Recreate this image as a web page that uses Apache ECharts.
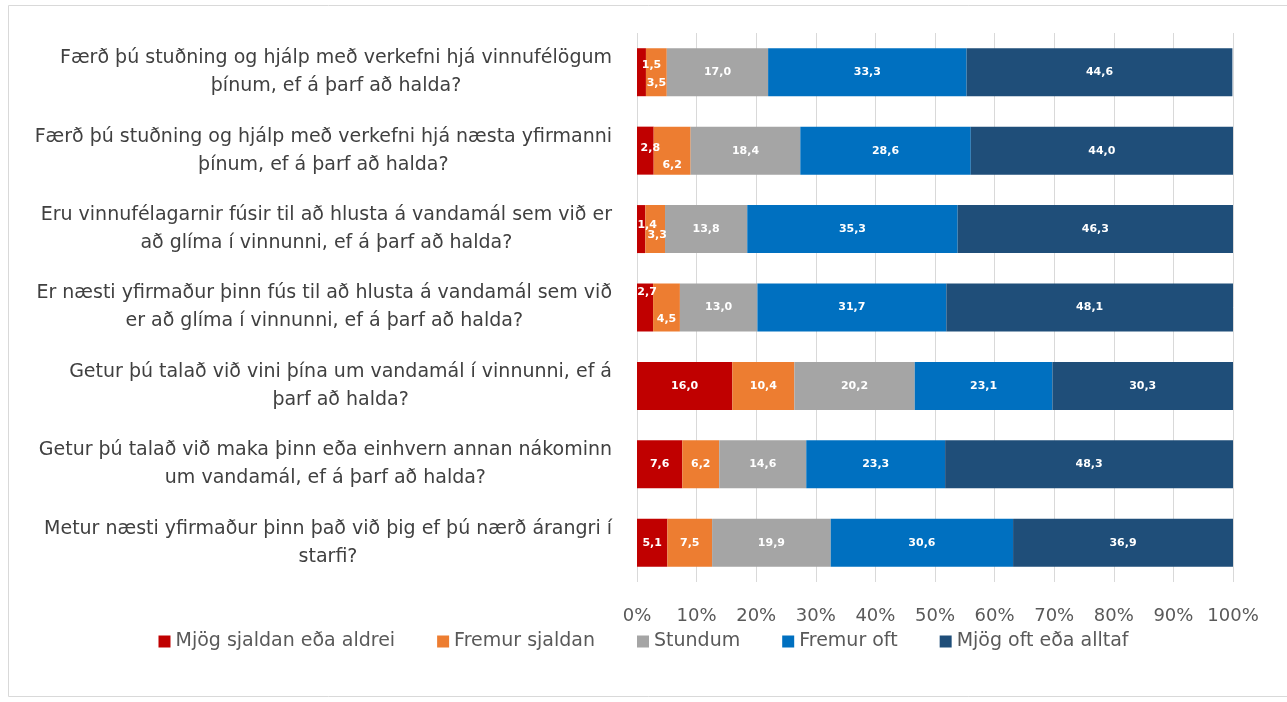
<!DOCTYPE html>
<html>
<head>
    <meta charset="utf-8">
    <title>Stuðningur í starfi</title>
    <script src="https://cdn.jsdelivr.net/npm/echarts@6/dist/echarts.min.js"></script>
    <style>
        html, body {margin: 0; padding: 0; background: #fff;}
        #main {width: 1287px; height: 702px;}
    </style>
</head>
<body>
<div id="main"></div>
<script>
    // spurningar (y-ás)
    var categories = [
        'Færð þú stuðning og hjálp með verkefni hjá vinnufélögum\nþínum, ef á þarf að halda?',
        'Færð þú stuðning og hjálp með verkefni hjá næsta yfirmanni\nþínum, ef á þarf að halda?',
        'Eru vinnufélagarnir fúsir til að hlusta á vandamál sem við er\nað glíma í vinnunni, ef á þarf að halda?',
        'Er næsti yfirmaður þinn fús til að hlusta á vandamál sem við\ner að glíma í vinnunni, ef á þarf að halda?',
        'Getur þú talað við vini þína um vandamál í vinnunni, ef á\nþarf að halda?',
        'Getur þú talað við maka þinn eða einhvern annan nákominn\num vandamál, ef á þarf að halda?',
        'Metur næsti yfirmaður þinn það við þig ef þú nærð árangri í\nstarfi?'
    ];
    var seriesNames = ['Mjög sjaldan eða aldrei', 'Fremur sjaldan', 'Stundum', 'Fremur oft', 'Mjög oft eða alltaf'];
    var mjogSjaldan = [1.5, 2.8, 1.4, 2.7, 16.0, 7.6, 5.1];
    var fremurSjaldan = [3.5, 6.2, 3.3, 4.5, 10.4, 6.2, 7.5];
    var stundum = [17.0, 18.4, 13.8, 13.0, 20.2, 14.6, 19.9];
    var fremurOft = [33.3, 28.6, 35.3, 31.7, 23.1, 23.3, 30.6];
    var mjogOft = [44.6, 44.0, 46.3, 48.1, 30.3, 48.3, 36.9];
    var xTicks = [0, 10, 20, 30, 40, 50, 60, 70, 80, 90, 100];

    var colors = ['#C00000', '#ED7D31', '#A5A5A5', '#0070C0', '#1F4E79'];
    var fontName = 'DejaVu Sans';
    // tilfærsla merkja á litlum bútum (eins og í Excel)
    var smallOffsets = {
        0: [[10, -7], [5, -3], [6, -4], [2, -15], null, null, null],
        1: [[0, 11], [0, 14], [2, 6], [0, 12], null, null, null]
    };

    var allData = [mjogSjaldan, fremurSjaldan, stundum, fremurOft, mjogOft];

    function fmt(v) {
        return v.toFixed(1).replace('.', ',');
    }

    var series = [];
    for (var i = 0; i < allData.length; i++) {
        var d = [];
        for (var j = 0; j < allData[i].length; j++) {
            var item = {value: allData[i][j]};
            if (smallOffsets[i] && smallOffsets[i][j]) {
                item.label = {offset: smallOffsets[i][j]};
            }
            d.push(item);
        }
        series.push({
            name: seriesNames[i],
            type: 'bar',
            stack: 'one',
            barWidth: 48,
            itemStyle: {color: colors[i]},
            label: {
                show: true,
                position: 'inside',
                color: '#fff',
                fontSize: 11,
                fontWeight: 'bold',
                fontFamily: fontName,
                formatter: function (p) { return fmt(p.value); }
            },
            data: d
        });
    }

    var myChart = echarts.init(document.getElementById('main'));
    myChart.setOption({
        animation: false,
        textStyle: {fontFamily: fontName},
        graphic: [{
            type: 'rect',
            shape: {x: 8.5, y: 5.5, width: 1300, height: 691},
            style: {fill: 'none', stroke: '#D9D9D9', lineWidth: 1},
            silent: true
        }],
        legend: {
            bottom: 46,
            left: 'center',
            itemWidth: 12,
            itemHeight: 12,
            itemGap: 42,
            icon: 'rect',
            textStyle: {color: '#595959', fontSize: 19, fontFamily: fontName},
            data: seriesNames
        },
        grid: {
            left: 637,
            right: 54,
            top: 33,
            bottom: 120
        },
        xAxis: {
            type: 'value',
            min: xTicks[0],
            max: xTicks[xTicks.length - 1],
            interval: 10,
            axisLine: {show: false},
            axisTick: {show: false},
            axisLabel: {
                color: '#595959',
                fontSize: 18,
                margin: 25,
                formatter: '{value}%'
            },
            splitLine: {lineStyle: {color: '#D9D9D9'}}
        },
        yAxis: {
            type: 'category',
            inverse: true,
            data: categories,
            axisLine: {show: false},
            axisTick: {show: false},
            axisLabel: {
                margin: 25,
                align: 'right',
                formatter: function (v) {
                    return v.split('\n').map(function (l) { return '{c|' + l + '}'; }).join('\n');
                },
                rich: {
                    c: {
                        align: 'center',
                        color: '#404040',
                        fontSize: 19,
                        lineHeight: 28,
                        fontFamily: fontName
                    }
                }
            }
        },
        series: series
    });
</script>
</body>
</html>
